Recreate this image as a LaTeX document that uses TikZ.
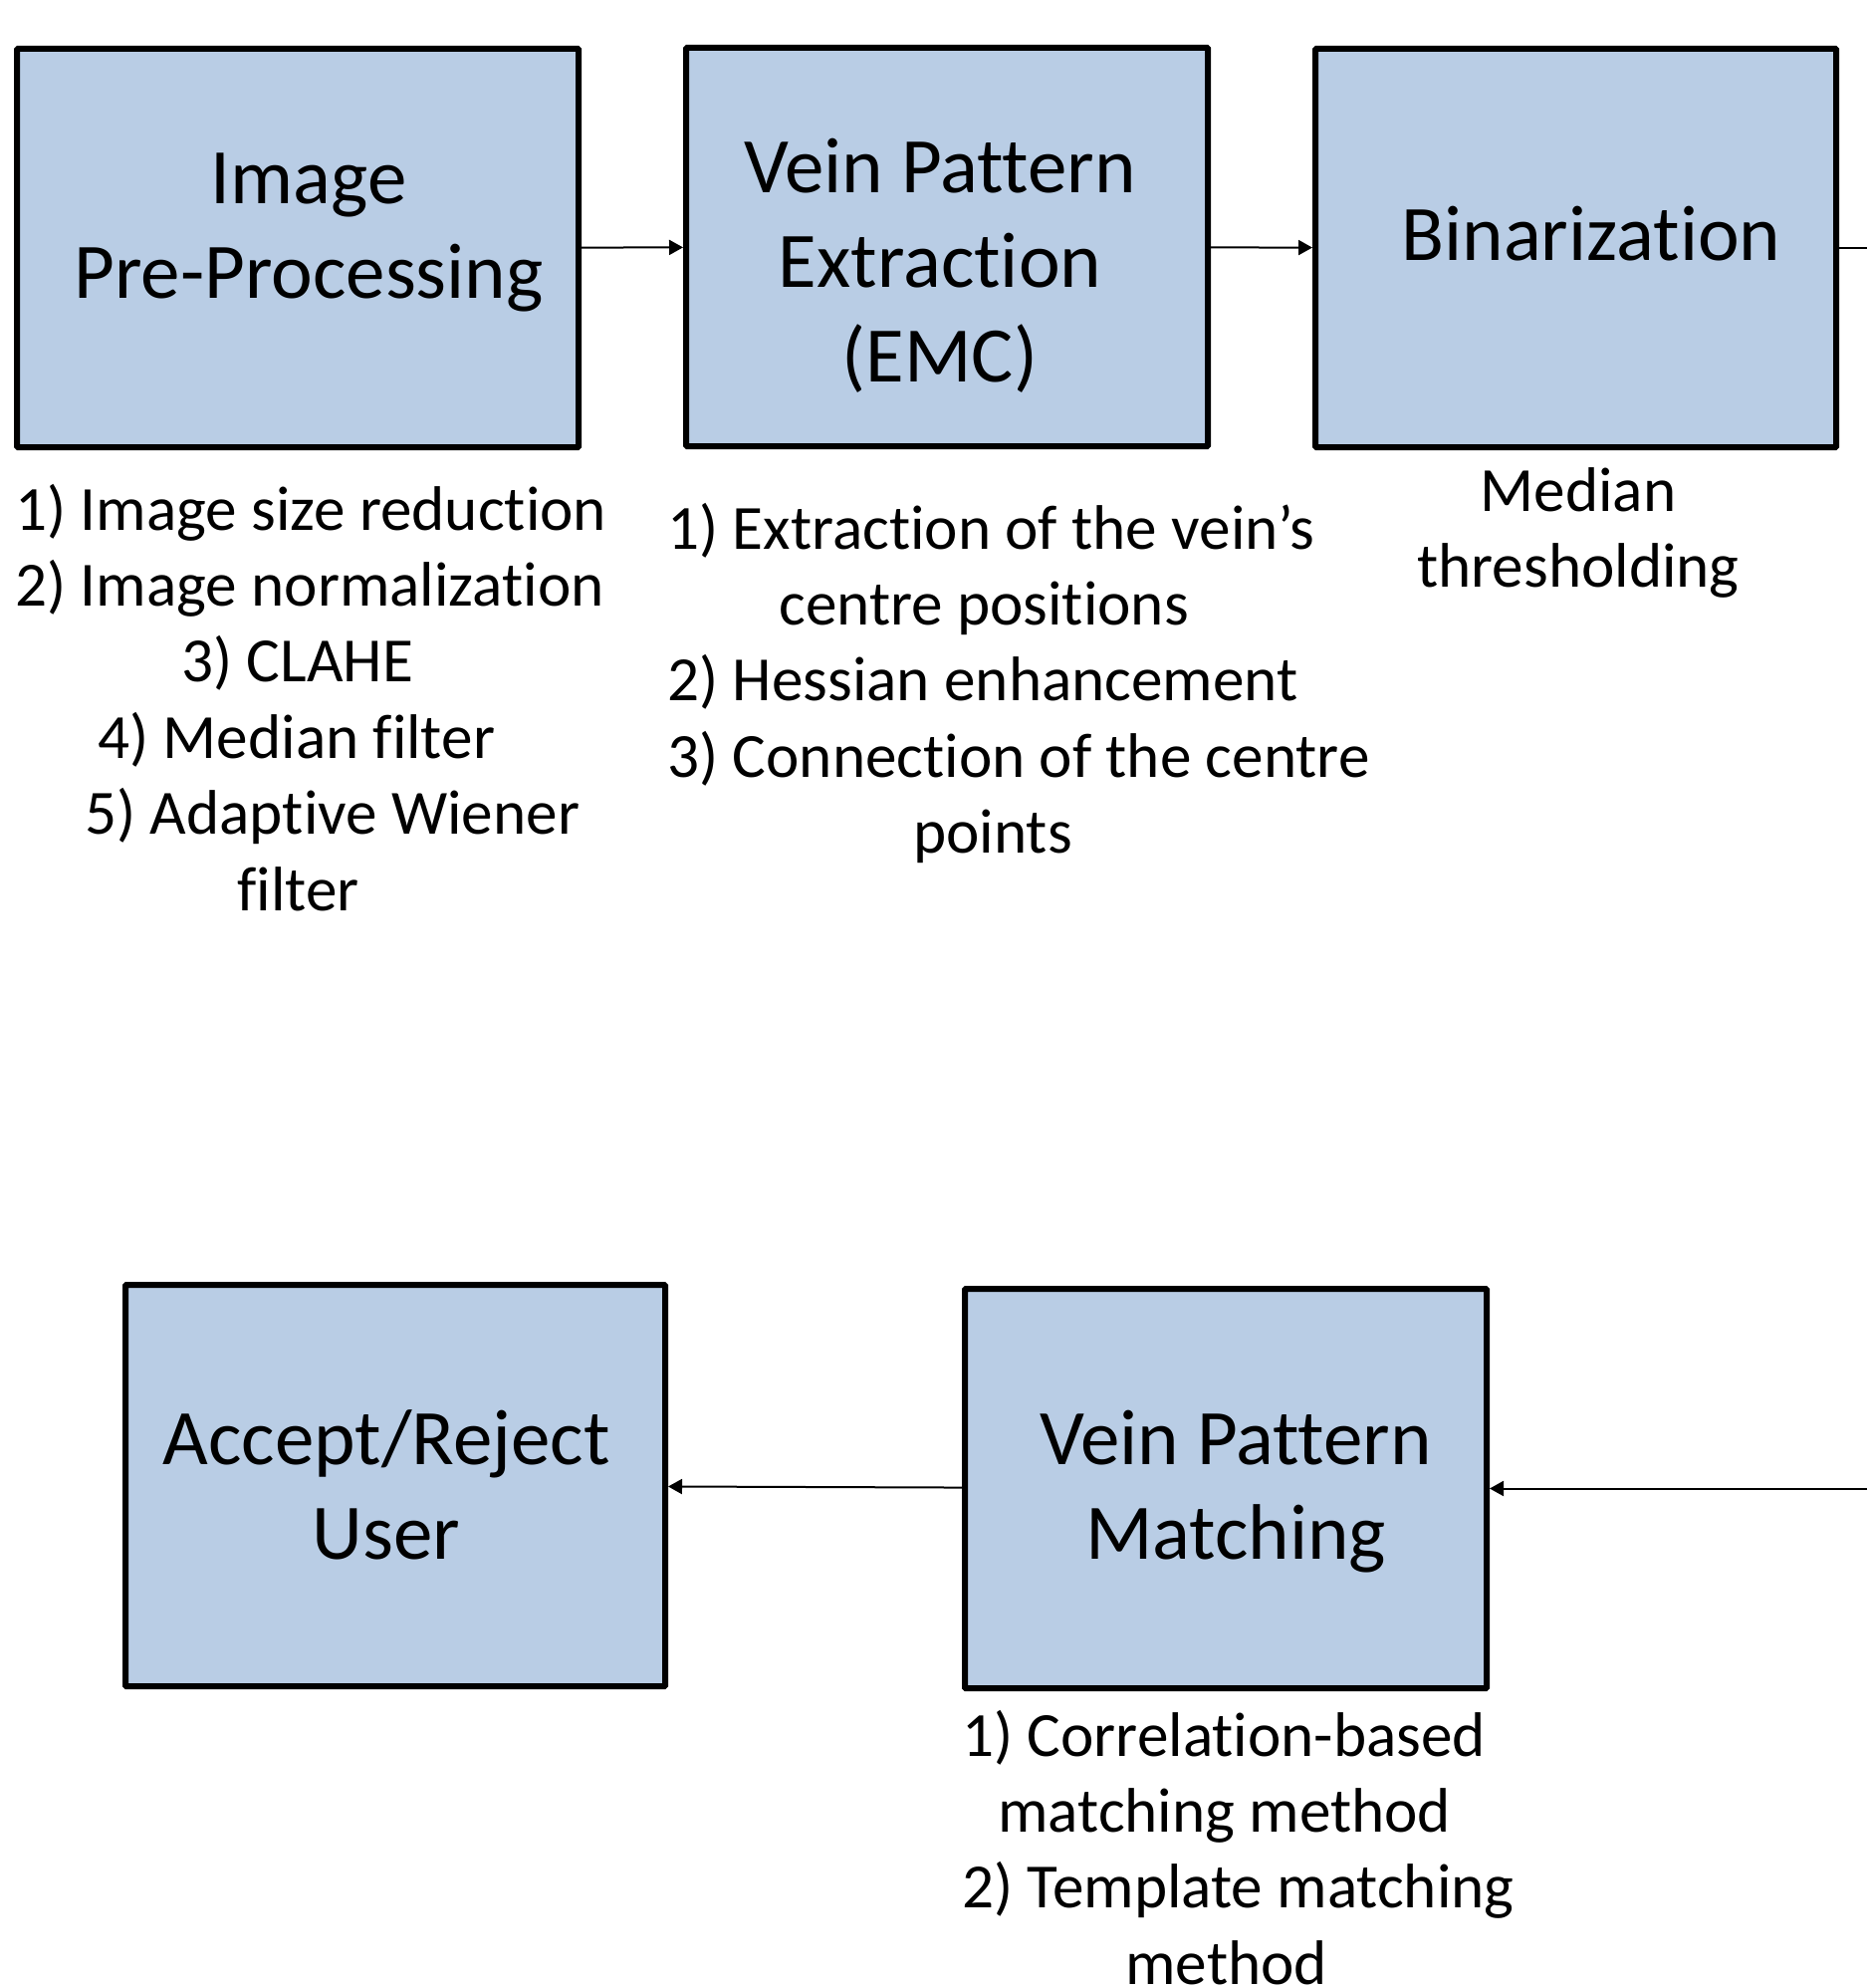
\documentclass[tikz,border=0pt]{standalone}
\usepackage{fontspec}
\setmainfont{Carlito}[Ligatures={NoCommon,NoContextual,NoRare}]
\usetikzlibrary{arrows.meta}
\definecolor{boxblue}{RGB}{185,205,229}
\tikzset{
  box/.style={draw=black, line width=3pt, fill=boxblue, inner sep=0pt, rounded corners=0.5pt},
  title/.style={font=\fontsize{39.5}{47.7}\selectfont, align=center, inner sep=0pt, anchor=base},
  sub/.style={font=\fontsize{31.6}{38.2}\selectfont, align=left, inner sep=0pt, anchor=base west},
  subc/.style={font=\fontsize{31.6}{38.2}\selectfont, align=center, inner sep=0pt, anchor=base},
  conn/.style={line width=1pt, -{Triangle[length=7pt,width=7.5pt]}},
}
\begin{document}
\begin{tikzpicture}[x=0.5pt, y=-0.5pt]
\useasboundingbox (0,0) rectangle (1875,1996);
% boxes
\node[box, minimum width=282pt, minimum height=200pt] (b1) at (299,249) {};
\node[box, minimum width=262pt, minimum height=200pt] (b2) at (951,248) {};
\node[box, minimum width=261.5pt, minimum height=200pt] (b3) at (1582.5,249) {};
\node[box, minimum width=271pt, minimum height=201.5pt] (b4) at (397,1491.5) {};
\node[box, minimum width=262pt, minimum height=200.5pt] (b5) at (1231,1494.5) {};
% titles (anchor at the baseline of the last line)
\node[title] (t1) at (310,299.4) {Image\\Pre-Processing};
\node[title] (t2) at (944,383.8) {Vein Pattern\\Extraction\\(EMC)};
\node[title] (t3) at (1598,261) {Binarization};
\node[title] (t4) at (388,1565.4) {Accept/Reject\\User};
\node[title] (t5) at (1241,1565.4) {Vein Pattern\\Matching};
% descriptions
\node[sub] (d1) at (15,914) {1) Image size reduction\\2) Image normalization\\\hspace*{83.5pt}3) CLAHE\\\hspace*{41.5pt}4) Median filter\\\hspace*{35pt}5) Adaptive Wiener\\\hspace*{111.5pt}filter};
\node[sub] (d2) at (670,856.6) {1) Extraction of the vein’s\\\hspace*{56pt}centre positions\\2) Hessian enhancement\\3) Connection of the centre\\\hspace*{123.5pt}points};
\node[subc] (d3) at (1585,589.4) {Median\\thresholding};
\node[sub] (d5) at (966,1992.2) {1) Correlation-based\\\hspace*{18pt}matching method\\2) Template matching\\\hspace*{82pt}method};
% connectors
\coordinate (o1) at (1875,249);
\coordinate (o2) at (1875,1494.5);
\draw[conn] (b1) -- (b2);
\draw[conn] (b2) -- (b3);
\draw[line width=1pt] (b3.east) -- (o1);
\draw[conn] (o2) -- (b5.east);
\draw[conn] (b5) -- (b4);
\end{tikzpicture}
\end{document}
